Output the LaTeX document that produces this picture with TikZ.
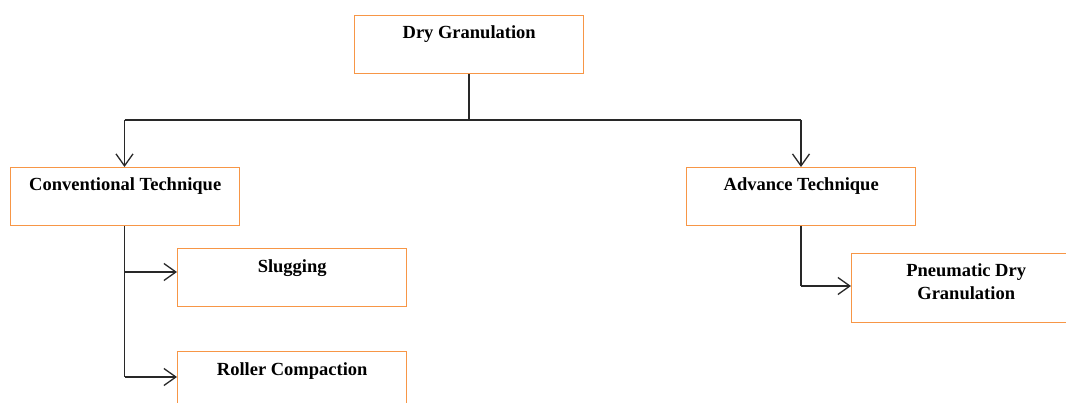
\documentclass[tikz,border=0pt]{standalone}
\usepackage{fontspec}
\setmainfont{Liberation Serif}
\usetikzlibrary{arrows.meta}
\definecolor{boxorange}{RGB}{247,150,70}
\definecolor{linegray}{RGB}{40,40,40}
\tikzset{
  box/.style={draw=boxorange, line width=1.4pt, rectangle, minimum width=229pt, minimum height=58pt, inner sep=0pt, anchor=north west},
  txt/.style={font=\bfseries\fontsize{18.5}{23}\selectfont, anchor=base, inner sep=0pt, align=center},
  conn/.style={draw=linegray, line width=1.3pt, -{Straight Barb[length=12pt,width=17pt,line width=1.3pt]}},
  plain/.style={draw=linegray, line width=1.3pt}
}
\begin{document}
\begin{tikzpicture}[x=1pt,y=-1pt]
\useasboundingbox (0,0) rectangle (1066,403);
\clip (0,0) rectangle (1066,403);
% boxes
\node[box] (dg) at (354,15) {};
\node[box] (ct) at (10,167) {};
\node[box] (at) at (686,167) {};
\node[box] (sl) at (177,248) {};
\node[box] (rc) at (177,351) {};
\node[box, minimum height=69pt] (pd) at (851,253) {};
% texts
\node[txt] (dgt) at ([yshift=-24pt]dg.north) {Dry Granulation};
\node[txt] (ctt) at ([yshift=-24pt]ct.north) {Conventional Technique};
\node[txt] (att) at ([yshift=-24pt]at.north) {Advance Technique};
\node[txt] (slt) at ([yshift=-25pt]sl.north) {Slugging};
\node[txt] (rct) at ([yshift=-24pt]rc.north) {Roller Compaction};
\node[txt] (pdt) at ([yshift=-47pt]pd.north) {Pneumatic Dry\\Granulation};
% connectors
\coordinate (j) at (469,120);
\coordinate (jl) at (124.5,120);
\coordinate (jr) at (801,120);
\draw[plain] (dg.south -| j) -- (j);
\draw[plain] (jl) -- (jr);
\draw[conn] (jl) -- (jl |- ct.north);
\draw[conn] (jr) -- (jr |- at.north);
\coordinate (cl1) at (124.5,272);
\coordinate (cl2) at (124.5,377);
\draw[plain] (ct.south -| cl1) -- (cl2);
\draw[conn] (cl1) -- (cl1 -| sl.west);
\draw[conn] (cl2) -- (cl2 -| rc.west);
\coordinate (ar) at (801,286);
\draw[plain] (at.south -| ar) -- (ar);
\draw[conn] (ar) -- (ar -| pd.west);
\end{tikzpicture}
\end{document}
